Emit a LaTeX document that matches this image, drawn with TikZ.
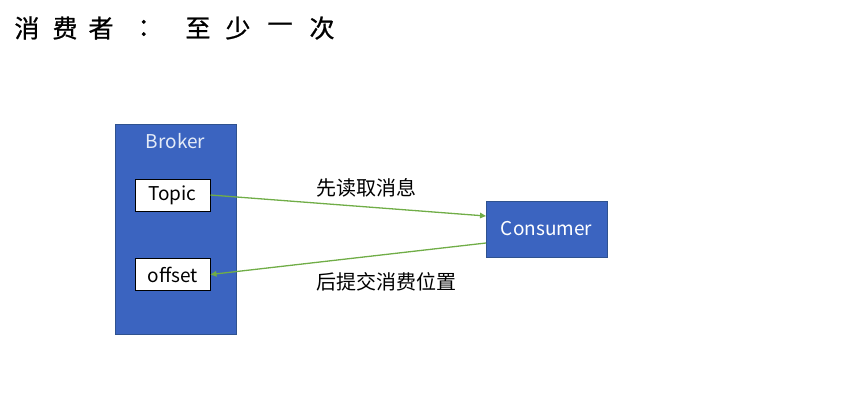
\documentclass[tikz,border=0pt]{standalone}
\usepackage{fontspec}
\setmainfont{Noto Sans CJK SC}
\newfontfamily\titlefont[FakeBold=0.8]{Noto Sans CJK SC}
\usetikzlibrary{arrows.meta}
\definecolor{boxblue}{HTML}{3B64C0}
\definecolor{boxedge}{HTML}{2F528F}
\definecolor{arrowgreen}{HTML}{70AD47}
\definecolor{lighttext}{HTML}{E4EBF7}
\tikzset{
  bluebox/.style={draw=boxedge, line width=0.8pt, fill=boxblue},
  whitebox/.style={draw=black, line width=1pt, fill=white, minimum width=75pt, minimum height=32pt, inner sep=0pt, font=\fontsize{19}{22}\selectfont},
  titlechar/.style={font=\titlefont\fontsize{25}{28}\selectfont, inner sep=0pt},
  lbl/.style={font=\fontsize{20}{23}\selectfont, inner sep=0pt},
  latinlbl/.style={font=\fontsize{19}{22}\selectfont, inner sep=0pt},
  flow/.style={draw=arrowgreen, line width=1.3pt, -{Triangle[length=6pt,width=5.5pt]}}
}
\begin{document}
\begin{tikzpicture}[x=1pt,y=-1pt]
\useasboundingbox (0,0) rectangle (844,416);
% title
\node[titlechar] (t1) at (27,28) {消};
\node[titlechar] (t2) at (65,28) {费};
\node[titlechar] (t3) at (101,28) {者};
\node[titlechar] (t4) at (150,28) {：};
\node[titlechar] (t5) at (198,28) {至};
\node[titlechar] (t6) at (238,28) {少};
\node[titlechar] (t7) at (280,28) {一};
\node[titlechar] (t8) at (322,28) {次};
% broker
\node[bluebox, minimum width=121pt, minimum height=210pt, inner sep=0pt] (broker) at (175.5,229) {};
\node[latinlbl, text=lighttext] (brokerlbl) at (175.5,141) {Broker};
\node[whitebox] (topic) at (172.5,195) {Topic};
\node[whitebox] (offset) at (172.5,274.5) {offset};
% consumer
\node[bluebox, minimum width=121pt, minimum height=56pt, inner sep=0pt, text=white, font=\fontsize{19}{22}\selectfont] (consumer) at (546.5,229) {Consumer};
% arrows
\coordinate (c1) at (486,216);
\coordinate (c2) at (486,243);
\draw[flow] (topic.east) -- (c1);
\draw[flow] (c2) -- (offset.east);
\node[lbl] (l1) at (366,188) {先读取消息};
\node[lbl] (l2) at (386,282) {后提交消费位置};
\end{tikzpicture}
\end{document}
